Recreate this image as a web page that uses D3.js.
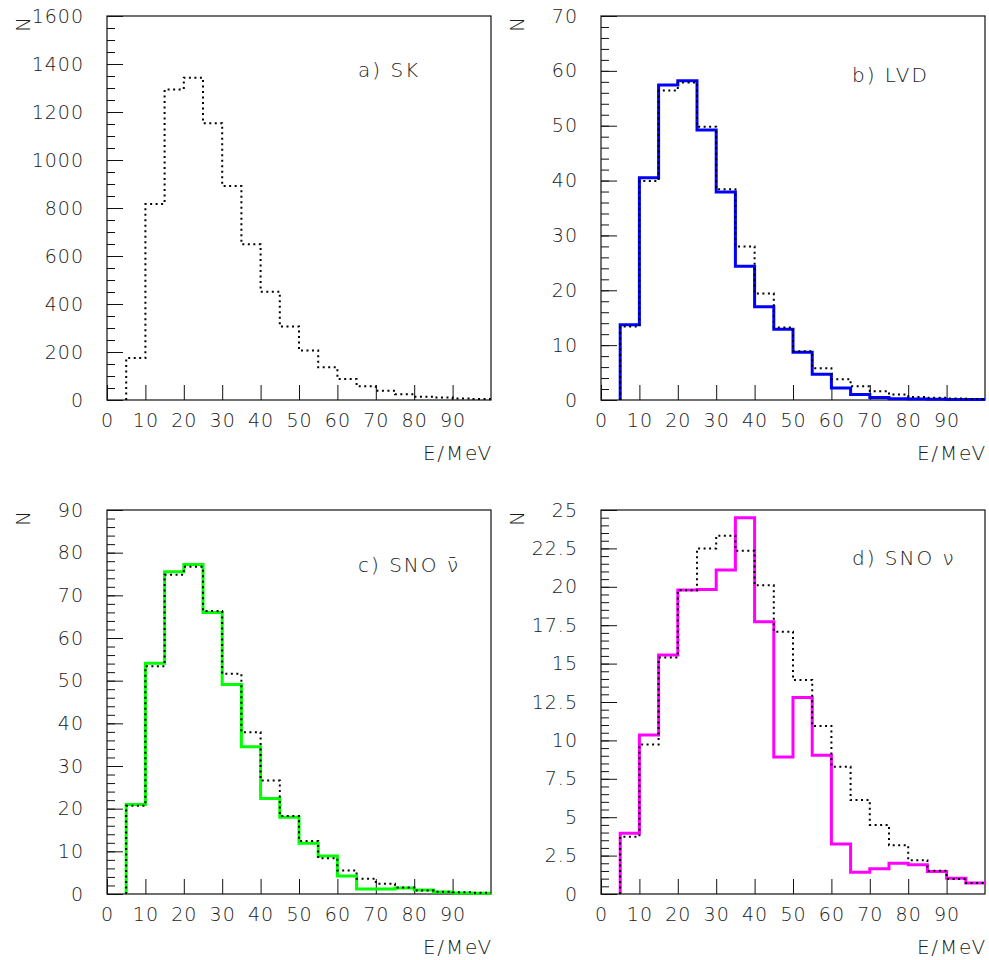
<!DOCTYPE html>
<html>
<head>
<meta charset="utf-8">
<script src="https://cdn.jsdelivr.net/npm/d3@7"></script>
<style>
  html, body { margin: 0; padding: 0; background: #fff; }
  svg text { font-family: "DejaVu Sans", "Liberation Sans", sans-serif; font-weight: 200; fill: #1a1a1a; }
</style>
</head>
<body>
<svg id="chart" width="989" height="960"></svg>
<script>
// ---- data ----
const binStart = [5, 10, 15, 20, 25, 30, 35, 40, 45, 50, 55, 60, 65, 70, 75, 80, 85, 90, 95];
const binEnd = 100;
const xTickValues = [0, 10, 20, 30, 40, 50, 60, 70, 80, 90];

const skDotted    = [175, 817, 1294, 1343, 1153, 892, 649, 451, 306, 206, 136, 88, 57, 39, 24, 14, 10, 6, 4];
const lvdSolid    = [13.7, 40.5, 57.4, 58.2, 49.2, 37.9, 24.4, 17.0, 12.9, 8.7, 4.7, 2.2, 1.0, 0.45, 0.25, 0.2, 0.15, 0.1, 0.08];
const lvdDotted   = [13.4, 39.9, 56.4, 57.9, 49.8, 38.4, 28.0, 19.4, 13.2, 8.9, 5.8, 3.8, 2.5, 1.6, 1.0, 0.55, 0.4, 0.28, 0.2];
const snoBarSolid = [21.0, 54.1, 75.5, 77.2, 66.0, 49.1, 34.5, 22.4, 18.0, 11.9, 8.9, 4.2, 1.2, 1.2, 1.4, 0.94, 0.47, 0.23, 0.2];
const snoBarDotted= [20.7, 53.4, 74.8, 76.7, 66.3, 51.6, 37.9, 26.6, 18.3, 12.4, 8.4, 5.5, 3.6, 2.4, 1.5, 0.8, 0.55, 0.4, 0.3];
const snoSolid    = [3.95, 10.35, 15.56, 19.79, 19.83, 21.1, 24.5, 17.73, 8.92, 12.8, 9.03, 3.26, 1.41, 1.65, 2.0, 1.91, 1.47, 1.02, 0.71];
const snoDotted   = [3.73, 9.74, 15.39, 19.77, 22.5, 23.33, 22.35, 20.1, 17.08, 13.93, 10.94, 8.29, 6.12, 4.5, 3.17, 2.2, 1.52, 0.98, 0.72];

const panelTitles = ["a) SK", "b) LVD", "c) SNO \u03BD\u0304", "d) SNO \u03BD"];
const yMax   = [1600, 70, 90, 25];
const yMajor = [200, 10, 10, 2.5];
const yMinor = [50, 2, 2, 0.5];
const solidColors = [null, "#0000ff", "#00ff00", "#ff00ff"];
const xLabel = "E/MeV";
const yLabel = "N";

// ---- layout ----
const svg = d3.select("#chart");
const W = 384, H = 384;
const panels = [
  { left: 107, top: 16,  solid: null,        dotted: skDotted,     titleY: 77 },
  { left: 601, top: 16,  solid: lvdSolid,    dotted: lvdDotted,    titleY: 82 },
  { left: 107, top: 510, solid: snoBarSolid, dotted: snoBarDotted, titleY: 572 },
  { left: 601, top: 510, solid: snoSolid,    dotted: snoDotted,    titleY: 565 }
];

function ticksFrom(step, max) {
  const out = [];
  const n = Math.round(max / step);
  for (let i = 0; i <= n; i++) out.push(+(i * step).toFixed(6));
  return out;
}

panels.forEach((p, i) => {
  const g = svg.append("g").attr("transform", `translate(${p.left},${p.top})`);
  const x = d3.scaleLinear().domain([0, 100]).range([0, W]);
  const y = d3.scaleLinear().domain([0, yMax[i]]).range([H, 0]);

  // minor y ticks
  const minor = g.append("g").call(
    d3.axisLeft(y).tickValues(ticksFrom(yMinor[i], yMax[i])).tickSizeInner(-8).tickSizeOuter(0).tickFormat("")
  );
  // major y ticks
  const major = g.append("g").call(
    d3.axisLeft(y).tickValues(ticksFrom(yMajor[i], yMax[i])).tickSizeInner(-16).tickSizeOuter(0)
      .tickPadding(24).tickFormat(d3.format("~g"))
  );
  // x axis
  const xa = g.append("g").attr("transform", `translate(0,${H})`).call(
    d3.axisBottom(x).tickValues(xTickValues).tickSizeInner(-15).tickSizeOuter(0).tickPadding(14)
  );
  [minor, major, xa].forEach(a => {
    a.select(".domain").remove();
    a.selectAll("line").attr("stroke", "#111").attr("stroke-width", 1);
    a.selectAll("text").attr("font-size", 19).attr("fill", "#1a1a1a")
      .style("font-family", '"DejaVu Sans", sans-serif').style("font-weight", 200)
      .style("letter-spacing", "1px");
  });
  major.selectAll("text").attr("dx", 1);

  // frame
  g.append("rect").attr("x", 0).attr("y", 0).attr("width", W).attr("height", H)
    .attr("fill", "none").attr("stroke", "#111").attr("stroke-width", 1.2);

  // step histogram path builder
  function stepPoints(vals) {
    const pts = [[binStart[0], 0]];
    vals.forEach((v, k) => pts.push([binStart[k], v]));
    pts.push([binEnd, vals[vals.length - 1]]);
    return pts;
  }
  const line = d3.line().x(d => x(d[0])).y(d => y(d[1])).curve(d3.curveStepAfter);

  if (p.solid) {
    g.append("path").attr("d", line(stepPoints(p.solid)))
      .attr("fill", "none").attr("stroke", solidColors[i]).attr("stroke-width", 3)
      .attr("stroke-linejoin", "miter");
  }
  g.append("path").attr("d", line(stepPoints(p.dotted)))
    .attr("fill", "none").attr("stroke", "#000").attr("stroke-width", 2)
    .attr("stroke-dasharray", "2,3.5");

  // axis labels
  g.append("text").attr("x", W + 2).attr("y", 460 - 16).attr("text-anchor", "end")
    .attr("font-size", 20).style("letter-spacing", "1.8px").text(xLabel);
  g.append("text").attr("transform", `translate(-77,1) rotate(-90)`)
    .attr("text-anchor", "end").attr("font-size", 20).text(yLabel);

  // title
  svg.append("text").attr("x", p.left + 251).attr("y", p.titleY).attr("font-size", 20)
    .style("letter-spacing", "2px")
    .text(panelTitles[i]);
});
</script>
</body>
</html>
